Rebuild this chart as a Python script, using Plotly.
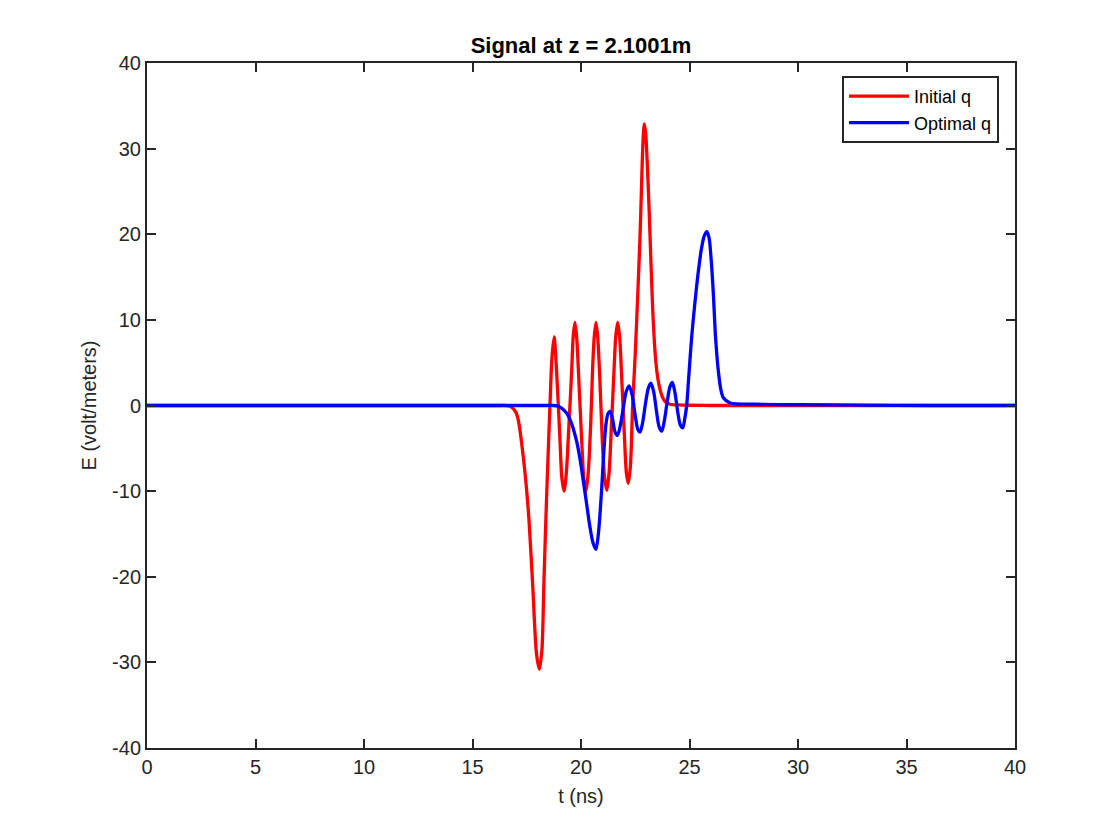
import plotly.graph_objects as go

# Values
t_initial = [0, 4, 8, 12, 15, 16.0, 16.3, 16.5, 16.75, 17.0, 17.11, 17.34, 17.57, 17.77, 17.95, 18.08, 18.2, 18.29, 18.41,
             18.57, 18.66, 18.76, 18.88, 19.03, 19.12, 19.22, 19.32, 19.45, 19.57, 19.64, 19.72,
             19.8, 19.9, 20.03, 20.13, 20.23, 20.33, 20.45, 20.53, 20.61, 20.69, 20.77, 20.87,
             20.98, 21.09, 21.19, 21.29, 21.41, 21.52, 21.6, 21.69, 21.78, 21.88, 22.0, 22.09,
             22.18, 22.28, 22.38, 22.5, 22.6, 22.72, 22.8, 22.86, 22.92, 22.98, 23.05, 23.13,
             23.22, 23.3, 23.38, 23.46, 23.55, 23.65, 23.75, 23.9, 24.1, 24.5, 25.0, 26.0, 28, 31, 34, 37, 40]
E_initial = [0, 0, 0, 0, 0, 0, 0, 0, -0.1, -0.8, -1.7, -6.0, -12.2, -20.8, -29.0, -30.8, -28.5, -20.8, -11.0,
             0.0, 5.5, 8.0, 3.8, -4.0, -8.5, -10.0, -8.0, -2.0, 4.0, 8.0, 9.7,
             8.0, 3.0, -4.0, -8.5, -10.0, -8.0, -2.0, 4.0, 8.0, 9.7, 8.0, 3.0,
             -4.0, -8.5, -9.9, -8.0, -2.0, 4.0, 8.0, 9.7, 8.0, 3.0, -3.5, -7.8,
             -9.1, -7.0, 0.0, 6.0, 12.0, 19.7, 26.5, 31.0, 32.9, 31.8, 28.5, 23.5,
             17.0, 11.5, 7.5, 4.8, 3.0, 1.8, 1.0, 0.4, 0.15, 0.07, 0.03, 0.0, 0, 0, 0, 0, 0]

t_optimal = [0, 4, 8, 12, 15, 17, 18.0, 18.4, 18.7, 18.9, 19.1, 19.34, 19.55, 19.8, 19.95, 20.1, 20.26, 20.4, 20.55, 20.69,
             20.8, 20.88, 20.97, 21.05, 21.15, 21.25, 21.34, 21.45, 21.57, 21.68, 21.8, 21.95,
             22.08, 22.22, 22.36, 22.5, 22.62, 22.72, 22.84, 22.97, 23.1, 23.22, 23.35, 23.48,
             23.6, 23.72, 23.84, 23.97, 24.1, 24.21, 24.33, 24.46, 24.58, 24.69, 24.79, 24.87,
             24.97, 25.1, 25.25, 25.4, 25.55, 25.68, 25.8, 25.9, 26.0, 26.1, 26.2, 26.33, 26.45,
             26.56, 26.87, 28.0, 30.0, 33.0, 36.0, 38, 40]
E_optimal = [0, 0, 0, 0, 0, 0, 0, 0, 0, -0.05, -0.3, -0.9, -2.0, -4.2, -6.2, -8.7, -11.5, -14.0, -16.0, -16.8,
             -15.0, -12.5, -9.0, -5.5, -2.2, -0.9, -0.7, -1.5, -3.1, -3.5, -2.5, -0.3,
             1.6, 2.3, 1.2, -1.2, -2.8, -3.1, -2.0, 0.2, 2.0, 2.6, 1.6, -0.7,
             -2.5, -3.0, -1.8, 0.4, 2.2, 2.7, 1.5, -0.8, -2.3, -2.6, -1.4, 0.0,
             3.5, 8.0, 12.0, 15.5, 18.3, 19.8, 20.3, 19.6, 17.0, 13.0, 8.0, 4.0, 1.8,
             0.9, 0.3, 0.15, 0.1, 0.05, 0.0, 0.0, 0.0]

x_ticks = [0, 5, 10, 15, 20, 25, 30, 35, 40]
y_ticks = [-40, -30, -20, -10, 0, 10, 20, 30, 40]

FONT = "Liberation Sans, Arial, Helvetica, sans-serif"
AX = "#262626"

fig = go.Figure()
fig.add_trace(go.Scatter(x=t_initial, y=E_initial, mode="lines", name="Initial q",
                         line=dict(color="#ff0000", width=3.3, shape="spline", smoothing=0.8)))
fig.add_trace(go.Scatter(x=t_optimal, y=E_optimal, mode="lines", name="Optimal q",
                         line=dict(color="#0000ff", width=3.3, shape="spline", smoothing=0.8)))

axis_common = dict(showline=True, linecolor=AX, linewidth=2, mirror="ticks",
                   ticks="inside", ticklen=9, tickwidth=2, tickcolor=AX,
                   showgrid=False, zeroline=False,
                   tickfont=dict(family=FONT, size=20, color=AX))

fig.update_xaxes(range=[0, 40], tickvals=x_ticks, ticktext=[str(v) for v in x_ticks],
                 title=dict(text="t (ns)", font=dict(family=FONT, size=20, color=AX), standoff=12),
                 **axis_common)
fig.update_yaxes(range=[-40, 40], tickvals=y_ticks, ticktext=[str(v) for v in y_ticks],
                 title=dict(text="E (volt/meters)", font=dict(family=FONT, size=20, color=AX), standoff=10),
                 **axis_common)

fig.update_layout(
    width=1120, height=840,
    margin=dict(l=147, r=105, t=63, b=92),
    paper_bgcolor="white", plot_bgcolor="white",
    title=dict(text="<b>Signal at z = 2.1001m</b>", x=0.5, xref="paper", xanchor="center",
               y=1 - 45 / 840, yanchor="middle",
               font=dict(family=FONT, size=22, color="#000000")),
    legend=dict(x=0.9816, y=0.981, xanchor="right", yanchor="top",
                bgcolor="white", bordercolor=AX, borderwidth=2,
                font=dict(family=FONT, size=18, color="#000000"),
                itemwidth=60, tracegroupgap=0),
    showlegend=True,
)

fig.write_html("out.html")
